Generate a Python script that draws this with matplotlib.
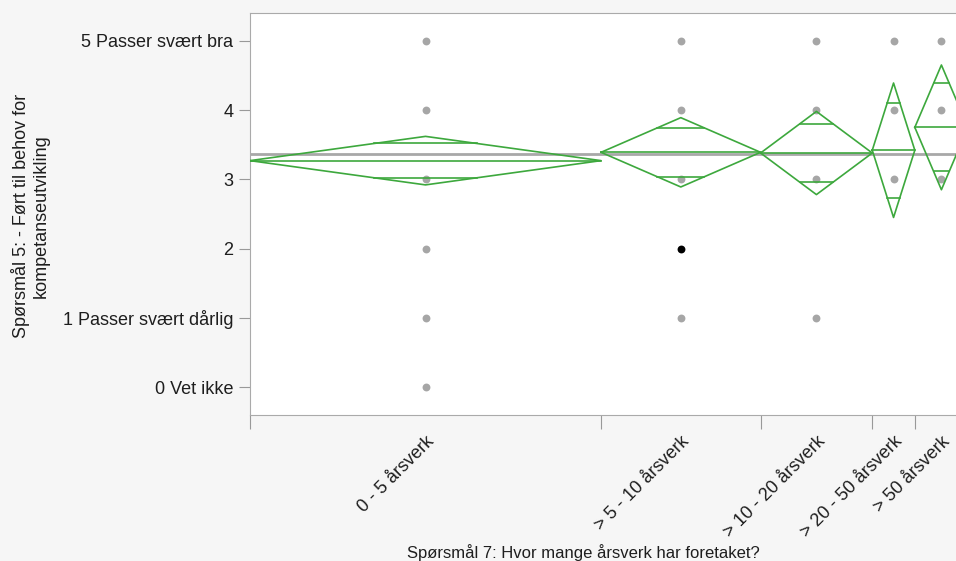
import matplotlib.pyplot as plt
import numpy as np

plt.rcParams['font.family'] = ['Liberation Sans', 'DejaVu Sans']

# grupper (x-akse) og antall svar per gruppe (bestemmer bredden)
groups = ['0 - 5 årsverk', '> 5 - 10 årsverk', '> 10 - 20 årsverk',
          '> 20 - 50 årsverk', '> 50 årsverk']
counts = [66, 30, 21, 8, 10]
means = [3.27, 3.39, 3.38, 3.42, 3.75]
ci_half = [0.35, 0.50, 0.60, 0.97, 0.90]
grand_mean = 3.36

# observerte verdier per gruppe (punkter)
values = [
    [0, 1, 2, 3, 4, 5],
    [1, 3, 4, 5],
    [1, 3, 4, 5],
    [3, 4, 5],
    [3, 4, 5],
]
# markert rad
sel_group = 1
sel_value = 2

ytick_vals = [0, 1, 2, 3, 4, 5]
ytick_labels = ['0 Vet ikke', '1 Passer svært dårlig', '2', '3', '4',
                '5 Passer svært bra']

green = '#3da83d'
txt = '#1e1e1e'

fig = plt.figure(figsize=(9.56, 5.61), dpi=100)
fig.patch.set_facecolor('#f6f6f6')
ax = fig.add_axes([250 / 956, 1 - 415 / 561, 718 / 956, 402 / 561])
ax.set_facecolor('white')

edges = np.concatenate([[0], np.cumsum(counts)])
centers = (edges[:-1] + edges[1:]) / 2
total = edges[-1]

ax.axhline(grand_mean, color='#a8a8a8', lw=2, zorder=1)

for i in range(len(groups)):
    x0, x1, xc = edges[i], edges[i + 1], centers[i]
    m, h = means[i], ci_half[i]
    ax.plot([x0, xc, x1, xc, x0], [m, m + h, m, m - h, m], color=green, lw=1.2, zorder=3)
    ax.plot([x0, x1], [m, m], color=green, lw=1.2, zorder=3)
    # overlap marks
    d = h / np.sqrt(2)
    hw = (x1 - x0) / 2 * (1 - 1 / np.sqrt(2))
    for s in (1, -1):
        ax.plot([xc - hw, xc + hw], [m + s * d, m + s * d], color=green, lw=1.2, zorder=3)
    ax.scatter([xc] * len(values[i]), values[i], s=32, color='#a6a6a6', zorder=2, linewidths=0)

ax.scatter([centers[sel_group]], [sel_value], s=32, color='black', zorder=4, linewidths=0)

ax.set_xlim(0, total)
ax.set_ylim(-0.4, 5.4)
ax.set_yticks(ytick_vals)
ax.set_yticklabels(ytick_labels, fontsize=13, color=txt)
ax.set_xticks(edges)
ax.set_xticklabels([])
ax.set_xticks(centers, minor=True)
ax.set_xticklabels(groups, minor=True, rotation=45, ha='right', va='top',
                   rotation_mode='anchor', fontsize=13, color=txt)
ax.tick_params(axis='x', which='minor', length=0, pad=13)
ax.tick_params(axis='x', which='major', length=10, color='#999999')
ax.tick_params(axis='y', length=8, color='#999999', pad=4)
for sp in ax.spines.values():
    sp.set_color('#aaaaaa')

fig.text(30 / 956, 1 - 216 / 561, 'Spørsmål 5: - Ført til behov for\nkompetanseutvikling',
         rotation=90, ha='center', va='center', multialignment='center',
         fontsize=13, color=txt)
fig.text(583 / 956, 1 - 553 / 561, 'Spørsmål 7: Hvor mange årsverk har foretaket?',
         ha='center', va='center', fontsize=12, color=txt)

fig.savefig('out.png', dpi=100, facecolor=fig.get_facecolor())
